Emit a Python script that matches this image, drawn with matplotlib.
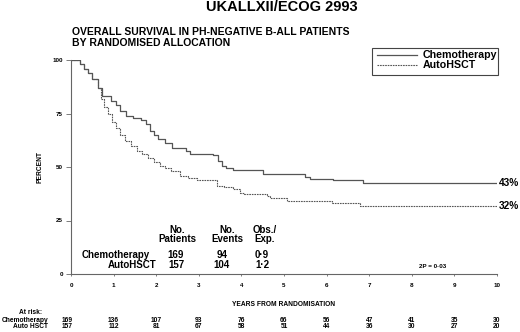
import matplotlib
matplotlib.use('Agg')
import matplotlib.pyplot as plt
from matplotlib.transforms import blended_transform_factory

plt.rcParams['font.family'] = ['Liberation Sans', 'DejaVu Sans']
plt.rcParams['font.weight'] = 'bold'

# Kaplan-Meier curves (years, percent surviving)
chemo_t = [0, 0.2, 0.3, 0.4, 0.5, 0.63, 0.73, 0.95, 1.05, 1.15, 1.3, 1.45, 1.65, 1.75,
           1.85, 1.95, 2.05, 2.2, 2.37, 2.56, 2.7, 2.79, 3.33, 3.45, 3.54, 3.65, 3.8,
           4.5, 5.5, 5.61, 6.15, 6.85, 10]
chemo_s = [100, 98, 96, 94, 91, 87, 83, 81, 79, 76, 74, 73, 72, 70,
           67, 65, 63, 61, 59, 58.7, 57.5, 56.3, 55.5, 53, 50.7, 49.5, 48.4,
           46.9, 45.5, 44.6, 43.7, 42.7, 42.7]
auto_t = [0, 0.2, 0.3, 0.4, 0.5, 0.63, 0.7, 0.78, 0.87, 0.96, 1.05, 1.15, 1.27, 1.4,
          1.55, 1.67, 1.8, 1.95, 2.1, 2.2, 2.35, 2.56, 2.75, 2.96, 3.43, 3.6, 3.8,
          3.97, 4.05, 4.6, 4.67, 5.07, 6.13, 6.78, 10]
auto_s = [100, 98, 96, 94, 91, 87, 82, 78, 75, 71, 68, 65, 62, 60,
          57.5, 56, 54, 52.5, 50.7, 49.3, 48, 46, 45, 43.7, 41.3, 40.5, 39.9,
          38, 37.6, 36.5, 35.7, 34.3, 33.3, 32, 32]

final_labels = ['43%', '32%']
final_vals = [42.7, 32]

groups = ['Chemotherapy', 'AutoHSCT']
n_patients = ['169', '157']
n_events = ['94', '104']
obs_exp = ['0·9', '1·2']

years = list(range(11))
risk_chemo = [169, 136, 107, 93, 76, 66, 56, 47, 41, 35, 30]
risk_auto = [157, 112, 81, 67, 58, 51, 44, 36, 30, 27, 20]

W, H = 520, 332


def fx(x):
    return x / W


def fy(y):
    return 1 - y / H


fig = plt.figure(figsize=(5.2, 3.32), dpi=100)
ax = fig.add_axes([fx(71), fy(274), (497 - 71) / W, (274 - 60) / H])

line_col = '#555555'
ax.step(chemo_t, chemo_s, where='post', color=line_col, lw=0.9)
ax.step(auto_t, auto_s, where='post', color=line_col, lw=0.8, ls=(0, (1.5, 0.8)))

ax.set_xlim(0, 10)
ax.set_ylim(0, 100)
for s in ['top', 'right']:
    ax.spines[s].set_visible(False)
for s in ['left', 'bottom']:
    ax.spines[s].set_color('#666666')
    ax.spines[s].set_linewidth(0.8)
ax.set_xticks(years)
ax.set_yticks([0, 25, 50, 75, 100])
ax.tick_params(axis='x', length=1.5, width=0.6, pad=5, labelsize=4.5, colors='#666666', labelcolor='black')
ax.tick_params(axis='y', length=3.6, width=0.6, pad=2, labelsize=4.5, colors='#666666', labelcolor='black')
for lab in ax.get_xticklabels() + ax.get_yticklabels():
    lab.set_fontweight('bold')
ax.set_xlabel('YEARS FROM RANDOMISATION', fontsize=4.8, fontweight='bold', labelpad=9)
ax.set_ylabel('PERCENT', fontsize=4.8, fontweight='bold', labelpad=7)

for lab, v in zip(final_labels, final_vals):
    ax.text(10.05, v, lab, fontsize=7.3, fontweight='bold', va='center', ha='left', clip_on=False)

# titles
fig.text(fx(282), fy(7), 'UKALLXII/ECOG 2993', fontsize=10.5, fontweight='bold', ha='center', va='center')
fig.text(fx(72), fy(32), 'OVERALL SURVIVAL IN PH-NEGATIVE B-ALL PATIENTS', fontsize=7.45, fontweight='bold', va='center')
fig.text(fx(72), fy(42.5), 'BY RANDOMISED ALLOCATION', fontsize=7.45, fontweight='bold', va='center')

# legend box
fig.patches.append(plt.Rectangle((fx(372), fy(75)), (498 - 372) / W, (75 - 48) / H,
                                 transform=fig.transFigure, fill=False, ec='#444444', lw=0.8))
fig.add_artist(plt.Line2D([fx(377), fx(417)], [fy(55), fy(55)], color=line_col, lw=0.9))
fig.add_artist(plt.Line2D([fx(377), fx(417)], [fy(65), fy(65)], color=line_col, lw=0.8, ls=(0, (1.5, 0.8))))
fig.text(fx(423), fy(55), 'Chemotherapy', fontsize=7.7, fontweight='bold', va='center')
fig.text(fx(423), fy(65.5), 'AutoHSCT', fontsize=7.7, fontweight='bold', va='center')

# summary table
fs = 7
fig.text(fx(177), fy(230), 'No.', fontsize=fs, fontweight='bold', ha='center', va='center')
fig.text(fx(177), fy(239.5), 'Patients', fontsize=fs, fontweight='bold', ha='center', va='center')
fig.text(fx(227), fy(230), 'No.', fontsize=fs, fontweight='bold', ha='center', va='center')
fig.text(fx(227), fy(239.5), 'Events', fontsize=fs, fontweight='bold', ha='center', va='center')
fig.text(fx(265), fy(230), 'Obs./', fontsize=fs, fontweight='bold', ha='center', va='center')
fig.text(fx(265), fy(239.5), 'Exp.', fontsize=fs, fontweight='bold', ha='center', va='center')
row_y = [255, 265]
row_right = [150, 156]
for g, n, e, oe, yy, xr in zip(groups, n_patients, n_events, obs_exp, row_y, row_right):
    fig.text(fx(xr), fy(yy), g, fontsize=fs, fontweight='bold', ha='right', va='center')
    fig.text(fx(176), fy(yy), n, fontsize=fs, fontweight='bold', ha='center', va='center')
    fig.text(fx(222), fy(yy), e, fontsize=fs, fontweight='bold', ha='center', va='center')
    fig.text(fx(262), fy(yy), oe, fontsize=fs, fontweight='bold', ha='center', va='center')
fig.text(fx(433), fy(267), '2P = 0·03', fontsize=4.5, fontweight='bold', ha='center', va='center')

# numbers at risk
tr = blended_transform_factory(ax.transData, fig.transFigure)
fig.text(fx(42), fy(312), 'At risk:', fontsize=4.8, fontweight='bold', ha='right', va='center')
fig.text(fx(48), fy(320.5), 'Chemotherapy', fontsize=4.8, fontweight='bold', ha='right', va='center')
fig.text(fx(48), fy(327), 'Auto HSCT', fontsize=4.8, fontweight='bold', ha='right', va='center')
for yr, rc, ra in zip(years, risk_chemo, risk_auto):
    xx = yr - 0.08 if yr == 0 else yr
    ax.text(xx, fy(320.5), str(rc), transform=tr, fontsize=4.8, fontweight='bold', ha='center', va='center')
    ax.text(xx, fy(327), str(ra), transform=tr, fontsize=4.8, fontweight='bold', ha='center', va='center')

fig.savefig('out.png', dpi=100)
